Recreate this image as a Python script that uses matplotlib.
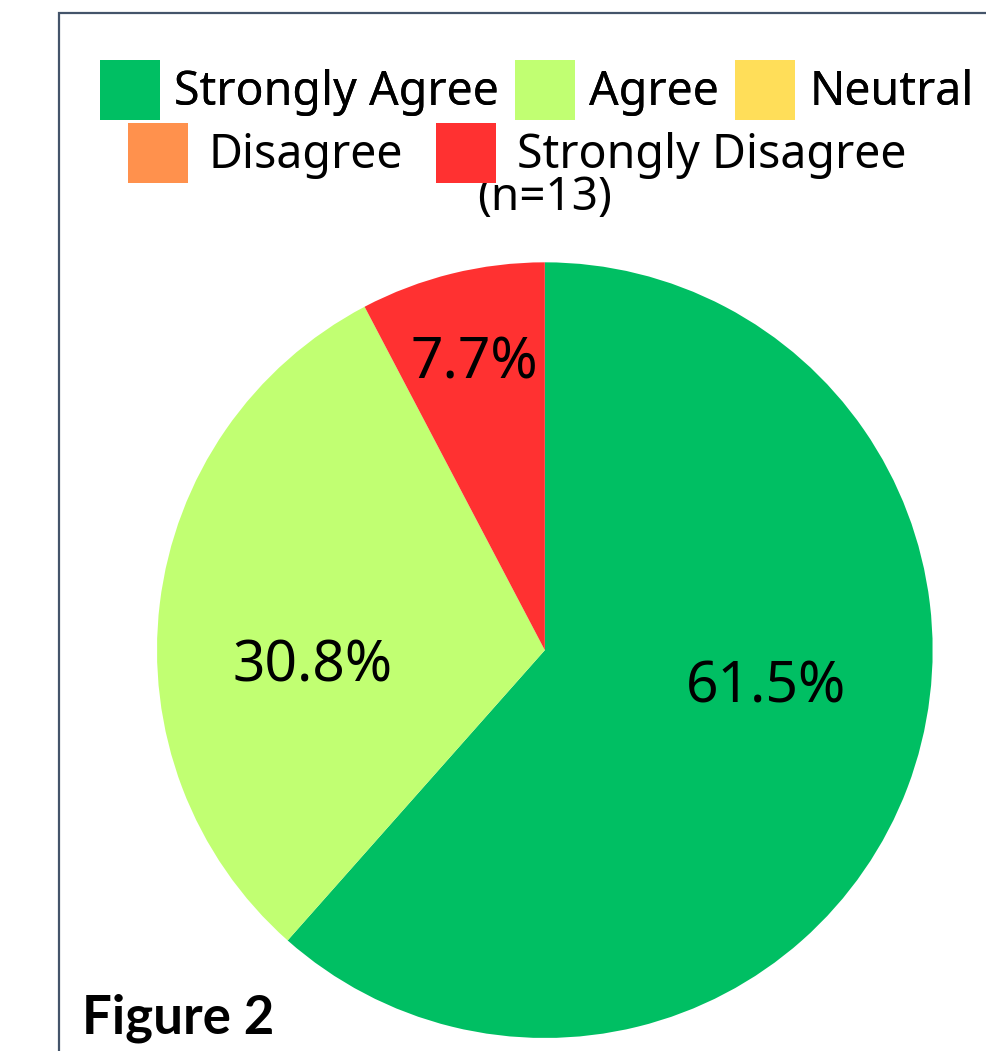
import numpy as np
import matplotlib.pyplot as plt
from matplotlib.patches import Rectangle, Patch

# survey responses (n=13)
categories = ['Strongly Agree', 'Agree', 'Neutral', 'Disagree', 'Strongly Disagree']
counts = [8, 4, 0, 0, 1]
colors = ['#00BF63', '#C1FF72', '#FFDE59', '#FF914D', '#FF3131']
n_label = '(n=13)'

# label placement inside each wedge (fraction of radius, angle tweak in degrees)
label_radius = [0.58, 0.60, 0.6, 0.6, 0.76]
label_shift = [11, 11, 0, 0, 0]

plt.rcParams['font.family'] = ['Noto Sans', 'DejaVu Sans']

fig = plt.figure(figsize=(9.87, 10.51), dpi=100)

# frame around the figure
fig.patches.append(Rectangle((59 / 987, -0.1), 1.2, 1.1 - 13 / 1051, transform=fig.transFigure,
                             fill=False, edgecolor='#44546A', linewidth=1.6, zorder=0))

ax = fig.add_axes([0.159, 0.0124, 0.786, 0.738])
total = sum(counts)
wedges, texts = ax.pie(counts, colors=colors, startangle=90, counterclock=False,
                       radius=1, wedgeprops=dict(linewidth=0))
for w, c, r, s in zip(wedges, counts, label_radius, label_shift):
    if c == 0:
        continue
    ang = np.deg2rad((w.theta1 + w.theta2) / 2 + s)
    ax.text(r * np.cos(ang), r * np.sin(ang), f'{100 * c / total:.1f}%',
            ha='center', va='center', fontsize=41)
ax.set_xlim(-1, 1)
ax.set_ylim(-1, 1)
ax.set_aspect('equal')
ax.axis('off')

handles = [Patch(facecolor=c, edgecolor='none') for c in colors]
leg_kw = dict(frameon=False, fontsize=33.5, handlelength=1.29, handleheight=1.6,
              borderpad=0, borderaxespad=0)
leg1 = fig.legend(handles[:3], categories[:3], ncol=3, loc='center',
                  bbox_to_anchor=(537 / 987, 1 - 90 / 1051),
                  handletextpad=0.3, columnspacing=0.35, **leg_kw)
fig.legend(handles[3:], categories[3:], ncol=2, loc='center',
           bbox_to_anchor=(517 / 987, 1 - 153 / 1051),
           handletextpad=0.45, columnspacing=0.7, **leg_kw)
fig.add_artist(leg1)

fig.text(545 / 987, 1 - 198 / 1051, n_label, ha='center', va='center', fontsize=33)
fig.text(82 / 987, 1 - 1018 / 1051, 'Figure 2', ha='left', va='center',
         fontsize=38, fontweight='bold', family=['Lato', 'DejaVu Sans'])

fig.savefig('out.png', dpi=100)
